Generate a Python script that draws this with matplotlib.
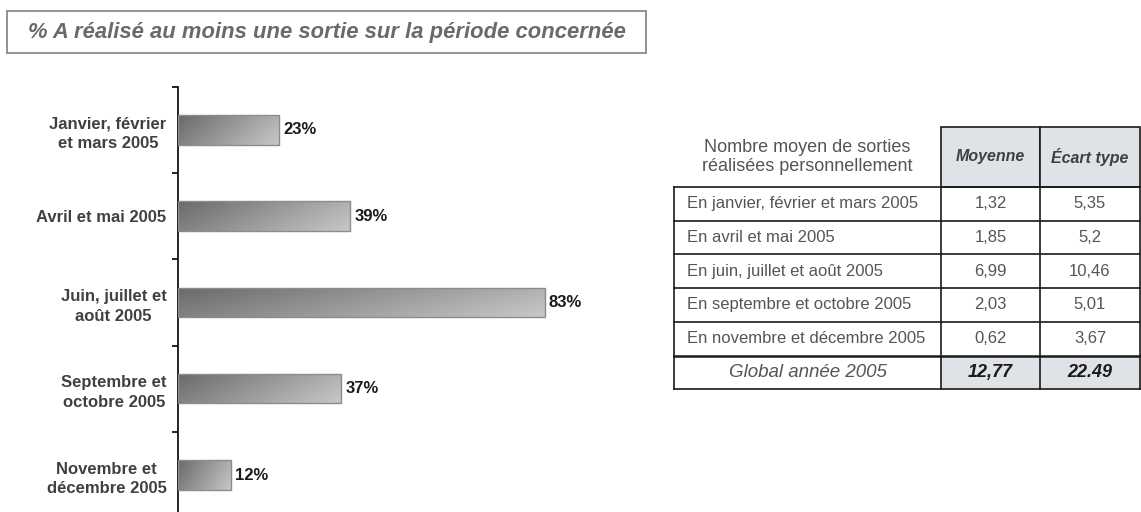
import numpy as np
import matplotlib
matplotlib.use('Agg')
import matplotlib.pyplot as plt
from matplotlib.patches import Rectangle
from matplotlib.colors import LinearSegmentedColormap

plt.rcParams['font.family'] = ['Liberation Sans', 'DejaVu Sans']

# -----------------------------------
# Data
# -----------------------------------
title = "% A réalisé au moins une sortie sur la période concernée"
periods = ["Janvier, février\net mars 2005", "Avril et mai 2005",
           "Juin, juillet et\naoût 2005", "Septembre et\noctobre 2005",
           "Novembre et\ndécembre 2005"]
pct = [23, 39, 83, 37, 12]

table_title = "Nombre moyen de sorties\nréalisées personnellement"
table_cols = ["Moyenne", "Écart type"]
table_rows = ["En janvier, février et mars 2005", "En avril et mai 2005",
              "En juin, juillet et août 2005", "En septembre et octobre 2005",
              "En novembre et décembre 2005"]
moyenne = ["1,32", "1,85", "6,99", "2,03", "0,62"]
ecart = ["5,35", "5,2", "10,46", "5,01", "3,67"]
global_label = "Global année 2005"
global_vals = ["12,77", "22.49"]

W, H = 1141, 512
fig = plt.figure(figsize=(W / 100, H / 100), dpi=100)

# -----------------------------------
# Bar chart
# -----------------------------------
ax = fig.add_axes([177.7 / W, (H - 518.2) / H, 442 / W, (518.2 - 86.7) / H])
grad_cmap = LinearSegmentedColormap.from_list('g', ['#6a6a6a', '#c8c8c8'])
gx, gy = np.meshgrid(np.linspace(0, 1, 200), np.linspace(0, 1, 40))
grad = 0.75 * gx + 0.25 * gy

ypos = np.arange(len(pct))
bars = ax.barh(ypos, pct, height=0.34, facecolor='none',
               edgecolor='#8c8c8c', linewidth=1.0, zorder=3)
for b, v in zip(bars, pct):
    y0 = b.get_y()
    im = ax.imshow(grad, cmap=grad_cmap, aspect='auto', zorder=2,
                   extent=[0, v, y0, y0 + b.get_height()], origin='lower')
    im.set_clip_path(b)
    ax.text(v + 1.0, b.get_y() + b.get_height() / 2, f"{v}%", va='center',
            ha='left', fontsize=12, fontweight='bold', color='#1a1a1a')

ax.set_xlim(0, 100)
ax.set_ylim(len(pct) - 0.5, -0.5)
ax.set_aspect('auto')
for s in ['top', 'right', 'bottom']:
    ax.spines[s].set_visible(False)
ax.spines['left'].set_linewidth(1.2)
ax.set_xticks([])
ax.set_yticks(np.arange(len(pct) + 1) - 0.5)
ax.set_yticklabels([])
ax.tick_params(axis='y', which='major', length=4, width=1.2, direction='out')
ax.set_yticks(ypos, minor=True)
ax.set_yticklabels(periods, minor=True, fontsize=12, fontweight='bold',
                   color='#404040', multialignment='center', linespacing=1.4)
ax.tick_params(axis='y', which='minor', length=0, pad=8)
ax.patch.set_visible(False)

# -----------------------------------
# Title box + table (pixel overlay)
# -----------------------------------
ov = fig.add_axes([0, 0, 1, 1])
ov.set_xlim(0, W)
ov.set_ylim(H, 0)
ov.axis('off')
ov.patch.set_visible(False)

ov.add_patch(Rectangle((7, 11), 639, 42, facecolor='white',
                       edgecolor='#8a8a8a', linewidth=1.3))
ov.text(327, 32.5, title, ha='center', va='center', fontsize=15.8,
        fontweight='bold', fontstyle='italic', color='#6a6a6a')

xs = [674, 941, 1040, 1140]
head_top, head_bot = 127, 187
row_h = 33.7
row_edges = [head_bot + i * row_h for i in range(len(table_rows) + 2)]
line_c = '#1a1a1a'
txt_c = '#555555'
fill_c = '#dfe2e6'

# header cells
for j, col in enumerate(table_cols):
    ov.add_patch(Rectangle((xs[j + 1], head_top), xs[j + 2] - xs[j + 1],
                           head_bot - head_top, facecolor=fill_c,
                           edgecolor=line_c, linewidth=1.2))
    ov.text((xs[j + 1] + xs[j + 2]) / 2, (head_top + head_bot) / 2, col,
            ha='center', va='center', fontsize=11.5, fontweight='bold',
            fontstyle='italic', color='#404040')
ov.text((xs[0] + xs[1]) / 2, (head_top + head_bot) / 2, table_title,
        ha='center', va='center', fontsize=13, color='#555555', linespacing=1.1)

# body rows
for i, (lab, m, e) in enumerate(zip(table_rows, moyenne, ecart)):
    y0, y1 = row_edges[i], row_edges[i + 1]
    yc = (y0 + y1) / 2
    ov.text(xs[0] + 13, yc, lab, ha='left', va='center', fontsize=12, color=txt_c)
    ov.text((xs[1] + xs[2]) / 2, yc, m, ha='center', va='center', fontsize=12, color=txt_c)
    ov.text((xs[2] + xs[3]) / 2, yc, e, ha='center', va='center', fontsize=12, color=txt_c)

# global row
gy0, gy1 = row_edges[-2], row_edges[-1]
for j in range(2):
    ov.add_patch(Rectangle((xs[j + 1], gy0), xs[j + 2] - xs[j + 1], gy1 - gy0,
                           facecolor=fill_c, edgecolor='none'))
    ov.text((xs[j + 1] + xs[j + 2]) / 2, (gy0 + gy1) / 2, global_vals[j],
            ha='center', va='center', fontsize=13, fontweight='bold',
            fontstyle='italic', color='#1a1a1a')
ov.text((xs[0] + xs[1]) / 2, (gy0 + gy1) / 2, global_label, ha='center',
        va='center', fontsize=13.5, fontstyle='italic', color='#555555')

# grid lines
for k, yy in enumerate(row_edges):
    lw = 1.8 if k == len(row_edges) - 2 else 1.2
    ov.plot([xs[0], xs[-1]], [yy, yy], color=line_c, linewidth=lw)
for xx in xs:
    ov.plot([xx, xx], [row_edges[0], row_edges[-1]], color=line_c, linewidth=1.2)

fig.savefig('out.png', dpi=100, facecolor='white')
